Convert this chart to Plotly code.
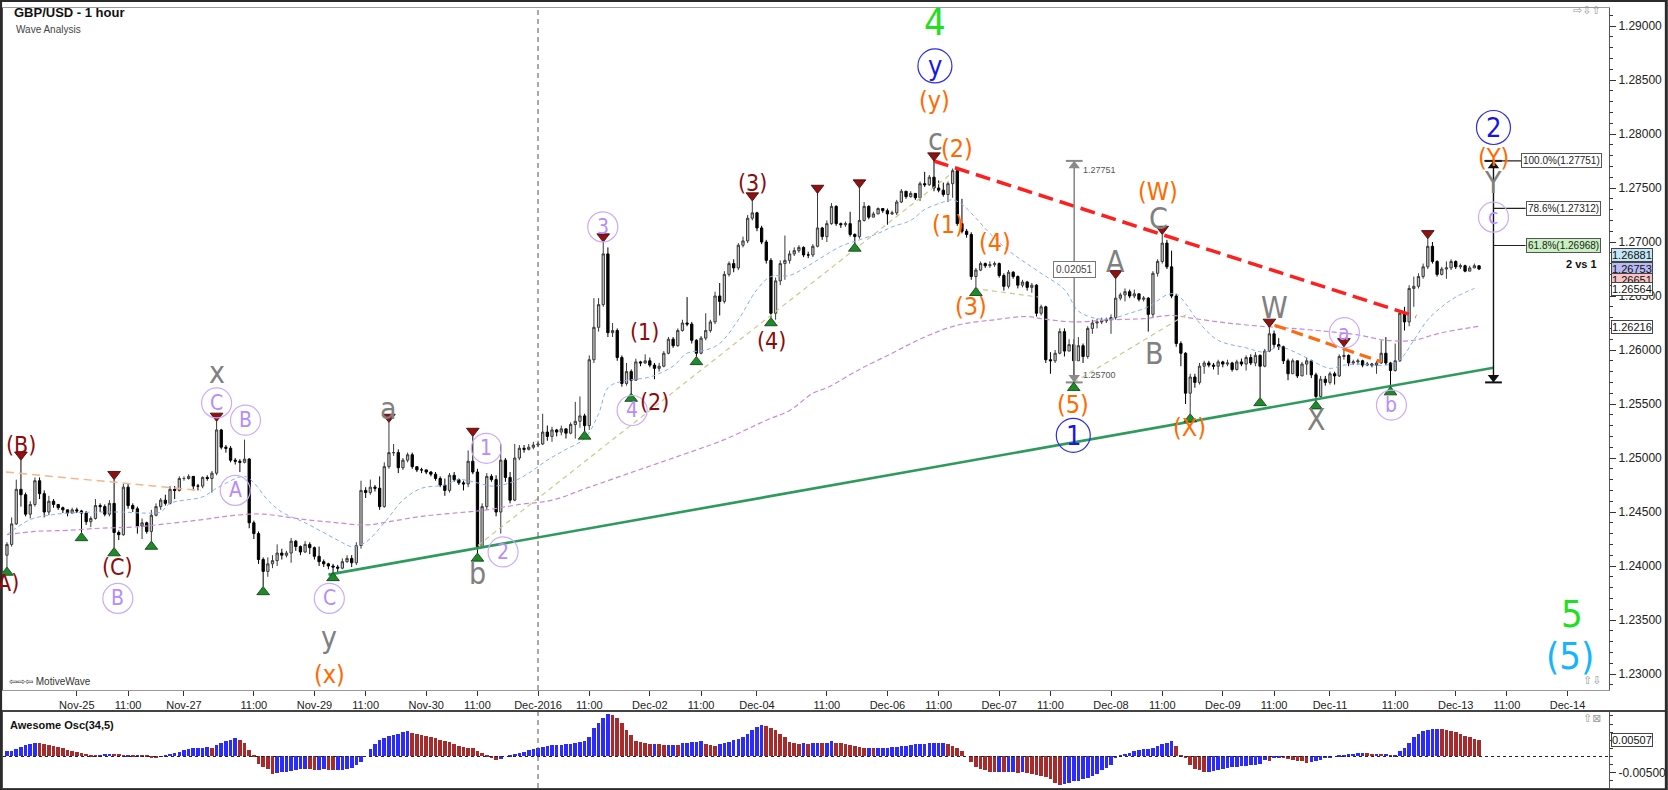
import plotly.graph_objects as go

# ---------------- DATA (prices stored as pips above 1.2000) ----------------
BASE = 1.2
PIP = 0.0001

open_first = 410
close_p = [
420,439,471,466,448,457,479,467,450,460, 457,454,452,449,452,451,449,441,444,456,
455,448,458,431,429,473,456,453,437,440, 432,447,455,461,458,471,470,481,481,483,
474,474,482,481,486,526,510,509,498,497, 496,499,440,430,406,395,402,405,412,410,
412,423,418,413,420,417,409,404,402,400, 399,398,404,407,403,419,470,468,473,472,
455,492,505,505,491,498,503,492,489,489, 487,485,481,475,470,484,480,477,476,497,
487,418,455,483,480,450,498,482,461,500, 509,508,510,512,513,524,520,526,524,527,
523,531,534,539,530,591,621,642,689,616, 618,593,569,580,572,589,588,590,586,583,
585,597,610,604,618,625,624,609,597,611, 618,626,650,645,670,680,676,697,701,722,
727,713,700,683,634,664,680,683,689,692, 695,688,688,696,713,705,717,733,717,716,
717,707,705,720,733,723,726,731,729,726, 727,737,747,742,745,741,754,753,760,750,
748,744,754,766,717,710,707,668,674,680, 678,679,680,669,659,672,668,660,663,658,
660,634,640,591,590,597,617,599,605,590, 604,594,620,625,626,627,628,630,648,651,
654,650,652,647,648,633,671,682,699,677, 650,606,597,560,575,570,585,588,586,585,
589,587,588,582,589,587,593,588,595,585, 599,615,605,603,590,578,590,576,587,590,
577,557,573,570,578,576,594,595,588,589, 590,586,587,586,588,597,588,581,590,634,
626,657,659,668,677,696,682,670,675,676, 682,677,678,673,676,678,675]
high_p = [
422,445,480,498,468,460,482,482,470,465, 462,457,455,452,454,454,452,451,446,462,
458,457,461,480,433,476,476,458,455,444, 441,452,458,463,466,474,474,483,483,485,
483,476,483,484,488,534,527,512,511,500, 499,517,500,442,432,408,408,410,420,416,
414,426,424,419,423,422,418,418,406,403, 402,401,407,410,410,422,479,473,480,475,
483,496,533,513,508,500,505,505,492,491, 489,488,487,483,481,486,487,481,479,507,
520,490,458,486,485,484,513,500,487,513, 512,512,513,515,516,541,530,529,527,530,
527,533,552,557,541,595,648,648,700,695, 625,620,595,588,582,592,590,596,593,588,
588,599,612,612,620,628,649,626,610,613, 634,628,654,662,673,682,684,699,705,725,
738,728,715,702,685,667,683,706,692,695, 697,696,691,698,745,714,720,736,734,718,
719,728,708,750,737,734,728,732,731,731, 729,739,749,745,747,744,756,765,762,775,
757,755,756,768,768,740,712,709,676,682, 681,682,682,681,671,674,673,669,665,664,
662,661,642,641,598,600,620,620,610,610, 612,606,622,628,629,630,630,633,666,653,
657,656,656,652,650,649,673,684,707,702, 692,652,608,598,578,578,588,590,590,588,
591,590,591,589,591,592,595,596,598,596, 601,621,618,611,604,592,592,590,589,593,
591,579,576,576,580,580,596,603,596,591, 592,591,589,588,590,609,612,589,606,637,
640,660,668,671,680,703,700,683,677,682, 684,683,680,679,678,680,677]
low_p = [
399,418,438,455,446,444,455,462,445,447, 454,452,449,446,449,449,431,438,436,443,
450,446,446,417,424,428,453,450,430,425, 430,423,446,452,456,457,462,469,479,480,
470,470,472,479,468,484,508,505,496,494, 487,495,435,425,402,381,390,398,400,406,
408,403,414,410,412,411,406,400,399,397, 394,394,397,403,399,401,416,463,466,469,
452,454,490,502,486,489,496,490,487,486, 485,483,479,473,465,468,478,475,470,473,
485,412,430,452,478,446,430,478,458,460, 498,505,507,508,510,512,516,515,520,521,
518,522,518,528,525,526,588,617,640,612, 612,590,566,567,560,572,585,587,584,573,
580,584,596,602,603,617,622,606,594,596, 609,616,624,632,643,668,672,674,695,699,
720,710,698,680,630,628,660,665,680,687, 690,686,685,686,695,702,700,716,715,713,
714,705,699,703,719,721,723,726,727,716, 725,725,736,740,741,739,738,751,752,747,
746,742,737,741,715,708,704,665,658,673, 676,676,677,667,655,657,666,657,658,655,
653,631,632,588,578,588,596,594,600,570, 590,588,592,615,620,624,625,615,628,646,
645,648,648,645,645,617,630,668,680,675, 648,603,585,550,541,565,568,578,584,582,
577,584,585,580,581,585,581,586,585,556, 584,598,602,600,587,572,583,574,578,577,
574,553,556,567,568,568,575,591,585,586, 586,584,585,584,578,587,586,566,580,589,
618,622,640,657,666,675,680,668,669,666, 674,675,675,672,673,676,674]

# Awesome Oscillator (34,5), units of 0.0001
ao_p = [
16,18,22,28,34,38,43,42,38,35, 33,30,25,20,16,14,11,8,5,4,
5,7,9,8,7,6,6,5,5,4, 2,-2,-4,-1,3,7,11,15,20,23,
25,27,27,28,26,34,40,47,52,56, 52,40,20,5,-22,-32,-38,-54,-50,-49,
-47,-45,-43,-40,-39,-40,-41,-41,-40,-42, -43,-42,-41,-39,-35,-27,-16,0,22,38,
50,56,62,65,70,74,78,72,69,66, 62,59,56,52,48,44,38,33,30,27,
26,18,11,5,-5,-11,-8,0,3,7, 10,13,20,24,27,30,32,34,35,36,
37,38,42,44,49,60,87,103,119,130, 127,119,103,81,65,49,44,40,38,38,
37,36,36,36,35,40,43,45,46,49, 38,35,32,38,43,46,50,54,60,70,
81,92,97,94,89,81,70,60,45,40, 38,41,39,42,43,41,43,49,43,40,
38,35,32,29,27,27,25,26,27,27, 28,29,31,33,35,37,38,39,40,41,
41,41,38,33,27,16,0,-16,-32,-38, -43,-47,-49,-48,-49,-49,-49,-50,-49,-51,
-54,-57,-60,-63,-70,-81,-87,-84,-81,-77, -74,-70,-65,-60,-54,-43,-35,-27,-5,5,
8,11,16,20,22,22,27,32,38,43, 49,32,5,-5,-27,-38,-43,-49,-48,-45,
-42,-39,-35,-33,-32,-30,-28,-27,-27,-22, -11,-14,-6,-5,-6,-9,-11,-13,-15,-19,
-16,-13,-10,-6,-4,0,2,5,7,9, 10,11,10,9,9,8,9,5,6,16,
27,43,60,70,78,81,84,86,84,81, 78,74,69,64,59,55,51]

tick_bars = [15, 26, 38, 53, 66, 77, 90, 101, 114, 125, 138, 149, 161, 176, 189,
             200, 213, 224, 237, 248, 261, 272, 284, 298, 311, 322, 335]
tick_text = ["Nov-25", "11:00", "Nov-27", "11:00", "Nov-29", "11:00", "Nov-30", "11:00",
             "Dec-2016", "11:00", "Dec-02", "11:00", "Dec-04", "11:00", "Dec-06", "11:00",
             "Dec-07", "11:00", "Dec-08", "11:00", "Dec-09", "11:00", "Dec-11", "11:00",
             "Dec-13", "11:00", "Dec-14"]
price_ticks = [1.23, 1.235, 1.24, 1.245, 1.25, 1.255, 1.26, 1.265, 1.27, 1.275, 1.28, 1.285, 1.29]
ao_ticks = [-0.005]

# moving averages (bar, pips)
blue_ma_bar = [0, 5, 9, 13, 24, 30, 33, 35, 42, 45, 51, 53, 56, 59, 64, 71, 74, 77, 81, 85, 89,
               94, 97, 101, 104, 108, 112, 116, 120, 124, 127, 129, 132, 138, 143, 146, 150, 153,
               157, 161, 164, 168, 172, 175, 179, 183, 187, 190, 194, 197, 201, 203, 205, 208,
               211, 215, 222, 227, 230, 234, 237, 241, 245, 249, 251, 253, 256, 260, 266, 270,
               273, 277, 281, 284, 287, 290, 296, 299, 302, 305, 308, 311, 315]
blue_ma_pip = [429, 443, 447, 449, 450, 449, 450, 458, 464, 472, 483, 477, 461, 450, 440, 424, 418,
               422, 440, 461, 472, 475, 480, 477, 474, 477, 486, 498, 508, 518, 541, 565, 571, 575,
               585, 597, 600, 606, 628, 656, 668, 669, 678, 686, 696, 702, 708, 714, 720, 730, 737,
               739, 735, 722, 708, 692, 671, 656, 636, 629, 629, 634, 640, 651, 652, 643, 625, 609,
               602, 598, 603, 597, 588, 583, 586, 587, 586, 591, 609, 628, 640, 649, 657]
purple_ma_bar = [0, 6, 13, 20, 27, 34, 42, 47, 52, 55, 59, 64, 71, 77, 82, 89, 96, 103, 110, 117,
                 125, 135, 145, 154, 163, 168, 173, 176, 183, 190, 197, 204, 212, 219, 222, 229,
                 237, 244, 250, 255, 262, 269, 276, 284, 290, 296, 302, 307, 313, 316]
purple_ma_pip = [429, 432, 433, 435, 436, 439, 443, 446, 448, 448, 446, 443, 440, 438, 441, 446,
                 449, 452, 457, 461, 473, 488, 503, 517, 535, 544, 560, 565, 582, 597, 612, 623,
                 628, 631, 629, 626, 628, 629, 632, 629, 625, 622, 620, 617, 614, 609, 609, 615,
                 620, 622]

# wave-analysis drawings: [bar0, pip0, bar1, pip1]
red_trend = [199, 775, 302.5, 631]
green_trend = [69, 392, 319.1, 583.5]
orange_trend = [272.1, 623, 295, 589]
peach_trend = [-0.2, 487, 41.6, 470]
khaki_trends = [[101.1, 419, 202.9, 764], [207.6, 657, 221.5, 649], [229, 570, 253.6, 634]]

swing_high_bars = [3, 23, 45, 82, 100, 128, 160, 174, 183, 199, 238, 248, 271, 287, 305]
swing_low_bars = [0, 16, 23, 31, 55, 70, 101, 124, 134, 148, 164, 182, 208, 229, 254, 269, 281, 297]

measure_bar = 229.1
fib_bar = 319.1
fib_low = 1.25700
fib_high = 1.27751
fib_ratios = [1.0, 0.786, 0.618]

# wave labels: (text, bar, pips, degree)
labels = [
    ("4", 199.2, 904, "green"), ("5", 336, 356, "green"), ("(5)", 335.6, 317, "cyan"),
    ("y", 199.2, 863, "blue"), ("1", 228.9, 521, "blue"), ("2", 319.1, 806, "blue"),
    ("(y)", 199.2, 831, "orange"), ("(2)", 204.0, 787, "orange"), ("(1)", 202.1, 716, "orange"),
    ("(4)", 212.1, 700, "orange"), ("(3)", 207.0, 640, "orange"), ("(W)", 247.1, 747, "orange"),
    ("(5)", 228.9, 550, "orange"), ("(X)", 253.8, 528, "orange"), ("(Y)", 319.1, 778, "orange"),
    ("(x)", 69.2, 300, "orange"),
    ("c", 199.4, 795, "grey"), ("C", 247.1, 722, "grey"), ("A", 238.0, 682, "grey"),
    ("B", 246.3, 597, "grey"), ("W", 272.1, 639, "grey"), ("X", 281.2, 536, "grey"),
    ("Y", 319.1, 755, "grey"), ("x", 45.0, 579, "grey"), ("y", 69.2, 334, "grey"),
    ("a", 82.0, 546, "grey"), ("b", 101.0, 393, "grey"),
    ("(B)", 3.0, 512, "darkred"), ("(A)", -0.6, 384, "darkred"), ("(C)", 23.8, 399, "darkred"),
    ("(1)", 136.8, 617, "darkred"), ("(2)", 139.0, 552, "darkred"), ("(3)", 160.0, 755, "darkred"),
    ("(4)", 164.1, 608, "darkred"),
    ("C", 45.0, 551, "purple"), ("B", 51.2, 535, "purple"), ("A", 49.0, 470, "purple"),
    ("B", 23.8, 370, "purple"), ("C", 69.2, 370, "purple"), ("1", 102.9, 509, "purple"),
    ("2", 106.5, 413, "purple"), ("3", 127.9, 714, "purple"), ("4", 134.2, 544, "purple"),
    ("a", 287.1, 616, "purple"), ("b", 297.2, 549, "purple"), ("c", 319.1, 723, "purple"),
]

axis_price_tags = [("1.26881", 1.26881, "#c4e6f6"), ("1.26753", 1.26753, "#b9b9f6"),
                   ("1.26651", 1.26651, "#f6c4c4"), ("1.26564", 1.26564, "#ffffff"),
                   ("1.26216", 1.26216, "#ffffff")]
ao_tag = 0.00507

# ---------------- STYLES ----------------
NARROW = "Liberation Sans Narrow, Arial Narrow, DejaVu Sans Condensed, sans-serif"
SANS = "Liberation Sans, Arial, sans-serif"
STY = {
    "green": dict(color="#1fe01f", size=38),
    "cyan": dict(color="#16b4ff", size=38),
    "blue": dict(color="#1717e0", size=27, circle="#2b2bf0", csize=34),
    "orange": dict(color="#ff6a00", size=25),
    "grey": dict(color="#808080", size=30),
    "darkred": dict(color="#8b0c0c", size=23),
    "purple": dict(color="#b68cff", size=21, circle="#cbaaff", csize=30),
}


def pr(v):
    return BASE + v * PIP


n = len(close_p)
bars = list(range(n))
opens = [open_first] + close_p[:-1]
O = [pr(v) for v in opens]
C = [pr(v) for v in close_p]
H = [pr(max(h, o, c)) for h, o, c in zip(high_p, opens, close_p)]
L = [pr(min(l, o, c)) for l, o, c in zip(low_p, opens, close_p)]

fig = go.Figure()

fig.add_trace(go.Candlestick(
    x=bars, open=O, high=H, low=L, close=C,
    increasing=dict(line=dict(color="#3a3a3a", width=1), fillcolor="#c4c4c4"),
    decreasing=dict(line=dict(color="#000000", width=1), fillcolor="#000000"),
    whiskerwidth=0, hoverinfo="skip", xaxis="x", yaxis="y"))

# moving averages
fig.add_trace(go.Scatter(x=blue_ma_bar, y=[pr(v) for v in blue_ma_pip], mode="lines",
                         line=dict(color="#86aef5", width=1, dash="4px,3px", shape="spline"),
                         hoverinfo="skip"))
fig.add_trace(go.Scatter(x=purple_ma_bar, y=[pr(v) for v in purple_ma_pip], mode="lines",
                         line=dict(color="#cc88d8", width=1.2, dash="5px,3px", shape="spline"),
                         hoverinfo="skip"))


def seg(t, color, width, dash=None):
    fig.add_trace(go.Scatter(x=[t[0], t[2]], y=[pr(t[1]), pr(t[3])], mode="lines",
                             line=dict(color=color, width=width, dash=dash), hoverinfo="skip"))


for kt in khaki_trends:
    seg(kt, "#c9c98e", 1.2, "5px,4px")
seg(peach_trend, "#f7b58a", 1.5, "8px,5px")
seg(green_trend, "#2e9a5c", 2.6)
seg(red_trend, "#ff1f1f", 3.5, "15px,7px")
seg(orange_trend, "#ff6a10", 3.2, "12px,6px")

# measurement tool (grey) and fib tool (black)
for xb, col, w in [(measure_bar, "#8a8a8a", 1.6), (fib_bar, "#111111", 1.4)]:
    fig.add_trace(go.Scatter(x=[xb, xb], y=[fib_low, fib_high], mode="lines",
                             line=dict(color=col, width=w), hoverinfo="skip"))
    fig.add_trace(go.Scatter(x=[xb - 1.8, xb + 1.8, None, xb - 1.8, xb + 1.8],
                             y=[fib_high, fib_high, None, fib_low, fib_low], mode="lines",
                             line=dict(color=col, width=2), hoverinfo="skip"))
    fig.add_trace(go.Scatter(x=[xb, xb], y=[fib_high - 0.00045, fib_low + 0.00045], mode="markers",
                             marker=dict(symbol=["triangle-up", "triangle-down"], size=10, color=col),
                             hoverinfo="skip"))
fib_prices = [fib_low + r * (fib_high - fib_low) for r in fib_ratios]
for r, fp in zip(fib_ratios, fib_prices):
    x0 = fib_bar - 2 if r == 1.0 else fib_bar
    x1 = 325.0 if r == 1.0 else 326.0
    fig.add_trace(go.Scatter(x=[x0, x1], y=[fp, fp], mode="lines",
                             line=dict(color="#222222", width=1.2), hoverinfo="skip"))

# swing markers
fig.add_trace(go.Scatter(x=swing_high_bars, y=[H[i] + 5 * PIP for i in swing_high_bars],
                         mode="markers", hoverinfo="skip",
                         marker=dict(symbol="triangle-down", size=11, color="#8e1212",
                                     line=dict(color="#3a0000", width=0.8))))
fig.add_trace(go.Scatter(x=swing_low_bars, y=[L[i] - 5 * PIP for i in swing_low_bars],
                         mode="markers", hoverinfo="skip",
                         marker=dict(symbol="triangle-up", size=11, color="#1e8a2a",
                                     line=dict(color="#0a3a10", width=0.8))))

# circles for circled labels
for deg in ["purple", "blue"]:
    pts = [(b, p) for (t, b, p, d) in labels if d == deg]
    fig.add_trace(go.Scatter(x=[b for b, p in pts], y=[pr(p) for b, p in pts], mode="markers",
                             hoverinfo="skip",
                             marker=dict(symbol="circle-open", size=STY[deg]["csize"],
                                         color=STY[deg]["circle"], line=dict(width=1.2))))

# awesome oscillator
ao = [v * PIP for v in ao_p]
ao_col = ["#2b2bff" if i == 0 or ao_p[i] >= ao_p[i - 1] else "#a82a2a" for i in range(n)]
fig.add_trace(go.Bar(x=bars, y=ao, marker=dict(color=ao_col, line=dict(width=0)), width=0.78,
                     xaxis="x2", yaxis="y2", hoverinfo="skip"))

ann = []
for t, b, p, d in labels:
    s = STY[d]
    ann.append(dict(x=b, y=pr(p), xref="x", yref="y", text=t, showarrow=False,
                    font=dict(family=NARROW, size=s["size"], color=s["color"]),
                    xanchor="center", yanchor="middle"))

# measure tool texts
ann.append(dict(x=230.6, y=fib_high - 0.0008, xref="x", yref="y", text="1.27751", showarrow=False,
                xanchor="left", font=dict(family=SANS, size=9, color="#555")))
ann.append(dict(x=230.6, y=fib_low + 0.0007, xref="x", yref="y", text="1.25700", showarrow=False,
                xanchor="left", font=dict(family=SANS, size=9, color="#555")))
ann.append(dict(x=measure_bar, y=(fib_high + fib_low) / 2 + 0.0002, xref="x", yref="y",
                text=f"{fib_high - fib_low:.5f}", showarrow=False, bgcolor="white",
                bordercolor="#777", borderwidth=1, borderpad=2,
                font=dict(family=SANS, size=10, color="#444")))
for r, fp in zip(fib_ratios, fib_prices):
    ann.append(dict(x=325.0 if r == 1.0 else 326.0, y=fp, xref="x", yref="y",
                    text=f"{r * 100:.1f}%({fp:.5f})", showarrow=False, xanchor="left",
                    bgcolor="#c8f0c0" if r == 0.618 else "white", bordercolor="#555",
                    borderwidth=1, borderpad=1, font=dict(family=SANS, size=10, color="#222")))
ann.append(dict(x=338.1, y=pr(680), xref="x", yref="y", text="<b>2 vs 1</b>", showarrow=False,
                font=dict(family=SANS, size=11, color="#111")))

for txt, val, bg in axis_price_tags:
    ann.append(dict(x=1.0013, y=val, xref="paper", yref="y", text=txt, showarrow=False,
                    xanchor="left", bgcolor=bg, bordercolor="#444", borderwidth=1, borderpad=0,
                    font=dict(family=SANS, size=11, color="#111")))
ann.append(dict(x=1.0013, y=ao_tag, xref="paper", yref="y2", text=f"{ao_tag:.5f}", showarrow=False,
                xanchor="left", bgcolor="white", bordercolor="#444", borderwidth=1, borderpad=0,
                font=dict(family=SANS, size=11, color="#111")))

# panel texts
ann += [
    dict(x=0.0056, y=0.9936, xref="paper", yref="paper", text="<b>GBP/USD - 1 hour</b>",
         showarrow=False, xanchor="left", yanchor="middle",
         font=dict(family=SANS, size=13, color="#111")),
    dict(x=0.0068, y=0.9718, xref="paper", yref="paper", text="Wave Analysis",
         showarrow=False, xanchor="left", yanchor="middle",
         font=dict(family=SANS, size=10, color="#444")),
    dict(x=0.0025, y=0.137, xref="paper", yref="paper", text="⇦⇨⇦ MotiveWave",
         showarrow=False, xanchor="left", yanchor="middle",
         font=dict(family=SANS, size=10, color="#333")),
    dict(x=0.0031, y=0.0808, xref="paper", yref="paper", text="<b>Awesome Osc(34,5)</b>",
         showarrow=False, xanchor="left", yanchor="middle",
         font=dict(family=SANS, size=11, color="#111")),
    dict(x=0.996, y=0.9972, xref="paper", yref="paper", text="⇨⇩⇧",
         showarrow=False, xanchor="right", yanchor="middle",
         font=dict(family="DejaVu Sans", size=11, color="#999")),
    dict(x=0.996, y=0.138, xref="paper", yref="paper", text="⇧⇩",
         showarrow=False, xanchor="right", yanchor="middle",
         font=dict(family="DejaVu Sans", size=11, color="#999")),
    dict(x=0.996, y=0.0885, xref="paper", yref="paper", text="⇧⊠",
         showarrow=False, xanchor="right", yanchor="middle",
         font=dict(family="DejaVu Sans", size=11, color="#999")),
]

shapes = [
    dict(type="line", xref="x", yref="y domain", x0=114, x1=114, y0=0, y1=1,
         line=dict(color="#555", width=1, dash="5px,4px")),
    dict(type="line", xref="x", yref="y2 domain", x0=114, x1=114, y0=0, y1=1,
         line=dict(color="#555", width=1, dash="5px,4px")),
    dict(type="line", xref="paper", yref="y2", x0=0, x1=1, y0=0, y1=0,
         line=dict(color="#222", width=1, dash="3px,3px")),
    dict(type="line", xref="paper", yref="paper", x0=-0.002, x1=1.036, y0=0.0987, y1=0.0987,
         line=dict(color="#444", width=2)),
    dict(type="rect", xref="paper", yref="paper", x0=-0.0015, x1=1.0357, y0=-0.0022, y1=1.0097,
         line=dict(color="#2b2b2b", width=3)),
]

PRICE_LO, PRICE_HI = 1.228519, 1.291667
fig.update_layout(
    width=1668, height=790, margin=dict(l=2, r=56, t=8, b=2),
    paper_bgcolor="white", plot_bgcolor="white", showlegend=False, bargap=0,
    annotations=ann, shapes=shapes,
    xaxis=dict(domain=[0, 1], anchor="y", range=[-0.85, 343.9], tickmode="array",
               tickvals=tick_bars, ticktext=tick_text, ticks="outside", ticklen=5,
               tickcolor="#333", showgrid=False, zeroline=False, showline=True,
               linecolor="#9a9a9a", mirror=True, rangeslider=dict(visible=False),
               tickfont=dict(family=SANS, size=11, color="#222")),
    yaxis=dict(domain=[0.12564, 1], anchor="x", side="right", range=[PRICE_LO, PRICE_HI],
               tickmode="array", tickvals=price_ticks, ticktext=[f"{v:.5f}" for v in price_ticks],
               ticks="outside", ticklen=6, tickcolor="#333", showgrid=False, zeroline=False,
               showline=True, linecolor="#555", mirror=True,
               minor=dict(dtick=0.001, tick0=1.23, ticks="outside", ticklen=3, tickcolor="#333"),
               tickfont=dict(family=SANS, size=12, color="#222")),
    xaxis2=dict(domain=[0, 1], anchor="y2", matches="x", showticklabels=False, ticks="",
                showgrid=False, zeroline=False, showline=True, linecolor="#9a9a9a", mirror=True),
    yaxis2=dict(domain=[0, 0.0974], anchor="x2", side="right", range=[-0.0097, 0.0137],
                tickmode="array", tickvals=ao_ticks, ticktext=[f"{v:.5f}" for v in ao_ticks],
                ticks="outside", ticklen=6, tickcolor="#333", showgrid=False, zeroline=False,
                showline=True, linecolor="#555", mirror=True,
                minor=dict(dtick=0.0025, ticks="outside", ticklen=3, tickcolor="#333"),
                tickfont=dict(family=SANS, size=12, color="#222")),
)

fig.write_html("out.html", config={"displayModeBar": False},
               post_script="document.body.style.margin='0';document.body.style.overflow='hidden';")
